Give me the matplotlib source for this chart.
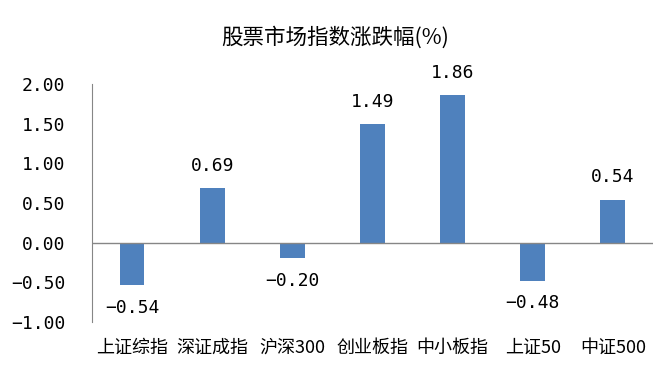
import matplotlib
matplotlib.use("Agg")
import matplotlib.pyplot as plt

plt.rcParams['font.family'] = ['Noto Sans CJK SC', 'DejaVu Sans']
plt.rcParams['axes.unicode_minus'] = False

categories = ["上证综指", "深证成指", "沪深300", "创业板指", "中小板指", "上证50", "中证500"]
values = [-0.54, 0.69, -0.20, 1.49, 1.86, -0.48, 0.54]
yticks = [-1.0, -0.5, 0.0, 0.5, 1.0, 1.5, 2.0]

num_font = ['DejaVu Sans Mono']

def fmt(v):
    return ("%.2f" % v).replace("-", "\u2212")

fig = plt.figure(figsize=(6.71, 3.76), dpi=100)
ax = fig.add_axes([0.137, 0.144, 0.836, 0.633])

x = list(range(len(categories)))
ax.bar(x, values, width=0.31, color="#4F81BD", zorder=2)

for xi, v in zip(x, values):
    off = 16 if v >= 0 else -16
    ax.annotate(fmt(v), (xi, v), xytext=(0, off), textcoords="offset points",
                ha="center", va="center", fontsize=13, color="black", family=num_font)

ax.set_xlim(-0.5, len(categories) - 0.5)
ax.set_ylim(-1.0, 2.0)
ax.set_yticks(yticks)
ax.set_yticklabels([fmt(t) for t in yticks], fontsize=13, family=num_font)
ax.set_xticks(x)
ax.set_xticklabels(categories, fontsize=13)
ax.tick_params(axis="both", length=0)
ax.tick_params(axis="y", pad=19)
ax.tick_params(axis="x", pad=12)

for s in ["top", "right", "bottom"]:
    ax.spines[s].set_visible(False)
ax.spines["left"].set_color("#868686")
ax.axhline(0, color="#868686", linewidth=1, zorder=3)

fig.text(0.5, 1 - 38 / 376, "股票市场指数涨跌幅(%)", ha="center", va="center", fontsize=15.5)

fig.savefig("out.png", dpi=100)
